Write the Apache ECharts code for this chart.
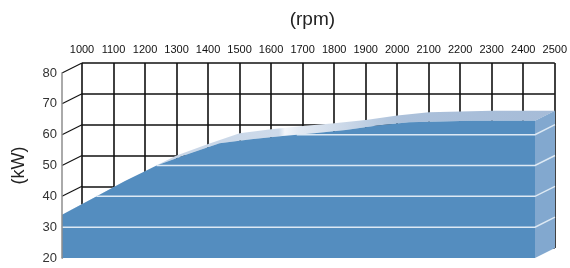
<!DOCTYPE html>
<html>
<head>
<meta charset="utf-8">
<script src="https://cdn.jsdelivr.net/npm/echarts@6/dist/echarts.min.js"></script>
<style>
  html, body {margin:0;padding:0;background:#fff;}
  #chart {width:570px;height:268px;}
</style>
</head>
<body>
<div id="chart"></div>
<script>
// engine speed (rpm) and power (kW)
var rpm = [1000, 1100, 1200, 1300, 1400, 1500, 1600, 1700, 1800, 1900, 2000, 2100, 2200, 2300, 2400, 2500];
var power = [34, 39.5, 45, 50, 53.7, 57.2, 58.5, 59.6, 60.5, 61.5, 63, 64, 64.3, 64.5, 64.5, 64.5];
var levels = [20, 30, 40, 50, 60, 70, 80];

// depth of the pseudo 3d box (px)
var DX = 20, DY = -10;
var FONT = 'Liberation Sans, Arial, sans-serif';

var myChart = echarts.init(document.getElementById('chart'));

function off(p) { return [p[0] + DX, p[1] + DY]; }

// top surface + right side of the block
function renderSolid(params, api) {
  var front = rpm.map(function (r, i) { return api.coord([r, power[i]]); });
  var back = front.map(off);
  var pts = front.concat(back.slice().reverse());
  var x0 = front[0][0], x1 = back[back.length - 1][0];
  var topFill = new echarts.graphic.LinearGradient(x0, 0, x1, 0, [
    {offset: 0, color: '#c3d2e4'},
    {offset: 0.44, color: '#cddaea'},
    {offset: 0.452, color: '#f3f6fa'},
    {offset: 0.48, color: '#e3eaf3'},
    {offset: 0.69, color: '#abc0da'},
    {offset: 1, color: '#a6bcd8'}
  ], true);
  var last = rpm.length - 1;
  var sTop = api.coord([rpm[last], power[last]]);
  var sBot = api.coord([rpm[last], levels[0]]);
  return {
    type: 'group',
    children: [
      {type: 'polygon', shape: {points: pts}, style: {fill: topFill}},
      {type: 'polygon', shape: {points: [sTop, sBot, off(sBot), off(sTop)]}, style: {fill: '#82a8cf'}}
    ]
  };
}

// white level lines across the front face and the side
function renderLevels(params, api) {
  var kids = [];
  var last = rpm.length - 1;
  levels.forEach(function (L) {
    if (L <= levels[0] || L >= power[last]) return;
    var start = rpm[0];
    for (var i = 0; i < power.length; i++) {
      if (power[i] >= L) {
        if (i > 0) start = rpm[i - 1] + (L - power[i - 1]) / (power[i] - power[i - 1]) * (rpm[i] - rpm[i - 1]);
        break;
      }
    }
    var a = api.coord([start, L]);
    var b = api.coord([rpm[last], L]);
    kids.push({type: 'polyline', shape: {points: [a, b, off(b)]},
      style: {stroke: '#dde9f4', lineWidth: 1.5, fill: null}});
  });
  return {type: 'group', children: kids};
}

// black depth lines from the front axis to the back wall
function renderDepth(params, api) {
  var kids = levels.map(function (L) {
    var p = api.coord([rpm[0], L]);
    return {type: 'line', shape: {x1: p[0], y1: p[1], x2: p[0] + DX, y2: p[1] + DY},
      style: {stroke: '#111', lineWidth: 1.2}};
  });
  return {type: 'group', children: kids};
}

var option = {
  animation: false,
  grid: [
    {left: 62, top: 73, width: 473, height: 185},
    {left: 82, top: 63, width: 473, height: 185}
  ],
  xAxis: [
    {gridIndex: 0, type: 'value', min: rpm[0], max: rpm[rpm.length - 1], interval: 100, show: false},
    {
      gridIndex: 1, type: 'value', position: 'top', min: rpm[0], max: rpm[rpm.length - 1], interval: 100,
      name: '(rpm)', nameLocation: 'middle', nameGap: 34,
      nameTextStyle: {fontSize: 19, color: '#222', fontFamily: FONT, padding: [0, 12, 0, 0]},
      axisLine: {show: false}, axisTick: {show: false},
      axisLabel: {fontSize: 11, color: '#111', fontFamily: FONT, margin: 8, showMaxLabel: true, showMinLabel: true,
        formatter: function (v) { return String(v); }},
      splitLine: {show: true, lineStyle: {color: '#111', width: 1.6}}
    }
  ],
  yAxis: [
    {
      gridIndex: 0, type: 'value', min: 20, max: 80, interval: 10, z: 5,
      name: '(kW)', nameLocation: 'middle', nameGap: 34, nameRotate: 90,
      nameTextStyle: {fontSize: 18, color: '#222', fontFamily: FONT},
      axisLine: {show: true, lineStyle: {color: '#8e8e8e', width: 1.5}},
      axisTick: {show: false},
      axisLabel: {fontSize: 13, color: '#333', fontFamily: FONT, margin: 5},
      splitLine: {show: false}
    },
    {
      gridIndex: 1, type: 'value', min: 20, max: 80, interval: 10,
      axisLine: {show: false}, axisTick: {show: false}, axisLabel: {show: false},
      splitLine: {show: true, lineStyle: {color: '#111', width: 1.6}}
    }
  ],
  series: [
    {
      type: 'custom', xAxisIndex: 0, yAxisIndex: 0, z: 1, silent: true,
      data: [[rpm[0], levels[0]]], renderItem: renderDepth
    },
    {
      type: 'custom', xAxisIndex: 0, yAxisIndex: 0, z: 2, silent: true,
      data: [[rpm[0], levels[0]]], renderItem: renderSolid
    },
    {
      name: 'power', type: 'line', xAxisIndex: 0, yAxisIndex: 0, z: 3, silent: true,
      data: rpm.map(function (r, i) { return [r, power[i]]; }),
      showSymbol: false, symbol: 'none',
      lineStyle: {width: 0},
      areaStyle: {color: '#548dbf', opacity: 1, origin: 'start'}
    },
    {
      type: 'custom', xAxisIndex: 0, yAxisIndex: 0, z: 4, silent: true,
      data: [[rpm[0], levels[0]]], renderItem: renderLevels
    }
  ]
};
myChart.setOption(option);
</script>
</body>
</html>
